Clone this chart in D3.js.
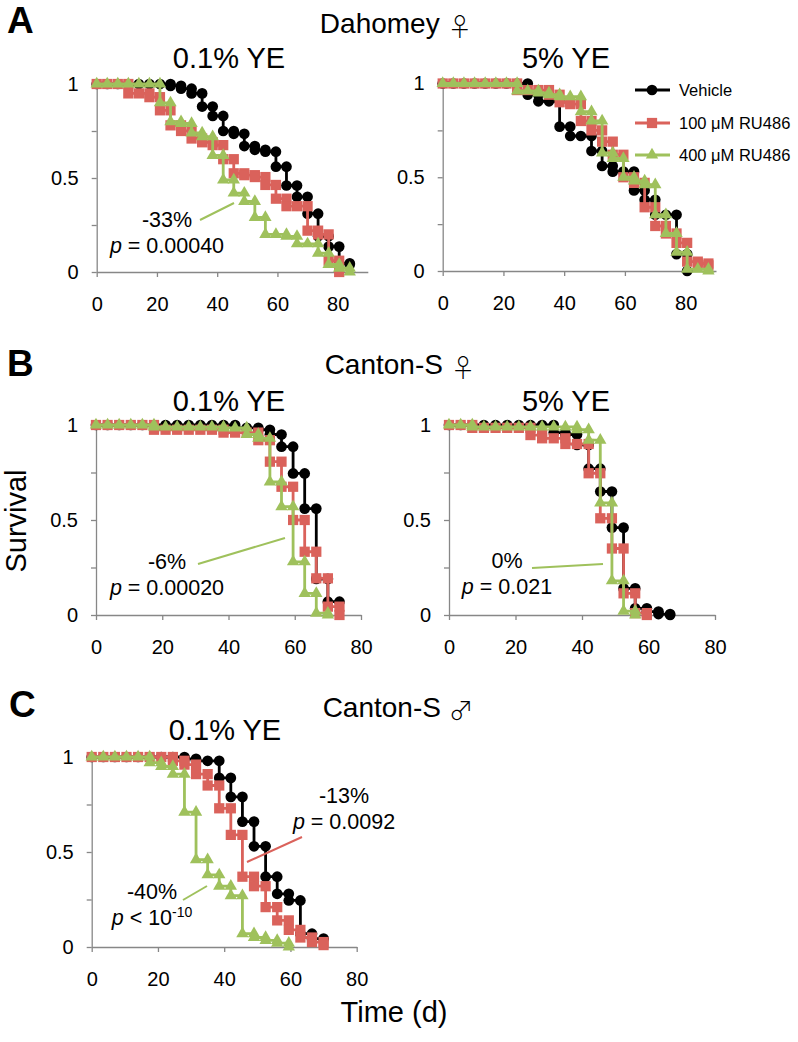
<!DOCTYPE html>
<html><head><meta charset="utf-8">
<script src="https://cdn.jsdelivr.net/npm/d3@7"></script>
<style>
body{margin:0;background:#fff}
svg{display:block}
text{font-family:"Liberation Sans",Arial,sans-serif;fill:#000}
</style>
</head><body>
<svg id="chart" width="798" height="1042"></svg>
<script>
// ---------- data ----------
const xTicks = [0, 20, 40, 60, 80];
const yTicks = [0, 0.25, 0.5, 0.75, 1];
const yTickLabels = ["0", "", "0.5", "", "1"];
const seriesNames = ["Vehicle", "100 \u03bcM RU486", "400 \u03bcM RU486"];
const seriesColors = ["#000000", "#da625b", "#9fc15c"];
const seriesShapes = ["circle", "square", "triangle"];

// Dahomey female, 0.1% YE  [day, survival]
const dahLow_vehicle = [[0,1],[3.5,1],[7,1],[10.5,1],[14,1],[17.5,1],[21,1],[24.5,0.99],[28,0.975],[31.5,0.95],[35,0.88],[38.5,0.83],[42,0.75],[45.5,0.735],[49,0.67],[52.5,0.65],[56,0.64],[59.5,0.56],[63,0.46],[66.5,0.40],[70,0.31],[73.5,0.19],[77,0.135],[80.5,0.046],[84,0.04]];
const dahLow_ru100 = [[0,1],[3.5,1],[7,1],[10.5,0.95],[14,0.95],[17.5,0.93],[21,0.86],[24.5,0.78],[28,0.75],[31.5,0.71],[35,0.69],[38.5,0.675],[42,0.6],[45.5,0.525],[49,0.515],[52.5,0.505],[56,0.463],[59.5,0.39],[63,0.35],[66.5,0.35],[70,0.22],[73.5,0.2],[77,0.06],[80.5,0]];
const dahLow_ru400 = [[0,1],[3.5,1],[7,1],[10.5,1],[14,1],[17.5,1],[21,0.9],[24.5,0.8],[28,0.79],[31.5,0.74],[35,0.72],[38.5,0.62],[42,0.49],[45.5,0.42],[49,0.375],[52.5,0.29],[56,0.2],[59.5,0.2],[63,0.19],[66.5,0.15],[70,0.15],[73.5,0.1],[77,0.04],[80.5,0.02],[84,0]];

// Dahomey female, 5% YE
const dahHigh_vehicle = [[0,1],[3.5,1],[7,1],[10.5,1],[14,1],[17.5,1],[21,1],[24.5,1],[28,0.94],[31.5,0.905],[35,0.905],[38.5,0.77],[42,0.72],[45.5,0.72],[49,0.64],[52.5,0.56],[56,0.53],[59.5,0.53],[63,0.43],[66.5,0.38],[70,0.3],[73.5,0.3],[77,0.09],[80.5,0]];
const dahHigh_ru100 = [[0,1],[3.5,1],[7,1],[10.5,1],[14,1],[17.5,1],[21,1],[24.5,0.965],[28,0.965],[31.5,0.965],[35,0.94],[38.5,0.9],[42,0.89],[45.5,0.8],[49,0.75],[52.5,0.69],[56,0.62],[59.5,0.5],[63,0.47],[66.5,0.34],[70,0.24],[73.5,0.2],[77,0.15],[80.5,0.05],[84,0.04],[87.5,0.03]];
const dahHigh_ru400 = [[0,1],[3.5,1],[7,1],[10.5,1],[14,1],[17.5,1],[21,1],[24.5,0.96],[28,0.96],[31.5,0.95],[35,0.94],[38.5,0.93],[42,0.93],[45.5,0.85],[49,0.8],[52.5,0.63],[56,0.6],[59.5,0.5],[63,0.48],[66.5,0.46],[70,0.3],[73.5,0.2],[77,0.1],[80.5,0.01],[84,0.01],[87.5,0]];

// Canton-S female, 0.1% YE
const cfLow_vehicle = [[0,1],[3.5,1],[7,1],[10.5,1],[14,1],[17.5,1],[21,1],[24.5,1],[28,1],[31.5,1],[35,1],[38.5,1],[42,0.985],[45.5,0.985],[49,0.975],[52.5,0.95],[56,0.886],[59.5,0.745],[63,0.56],[66.5,0.19],[70,0.07],[73.5,0.07]];
const cfLow_ru100 = [[0,1],[3.5,1],[7,1],[10.5,1],[14,1],[17.5,0.975],[21,0.975],[24.5,0.975],[28,0.975],[31.5,0.975],[35,0.975],[38.5,0.96],[42,0.96],[45.5,0.96],[49,0.92],[52.5,0.807],[56,0.675],[59.5,0.5],[63,0.333],[66.5,0.193],[70,0.044],[73.5,0]];
const cfLow_ru400 = [[0,1],[3.5,1],[7,1],[10.5,1],[14,1],[17.5,0.99],[21,0.99],[24.5,0.99],[28,0.99],[31.5,0.99],[35,0.99],[38.5,0.985],[42,0.985],[45.5,0.95],[49,0.93],[52.5,0.7],[56,0.57],[59.5,0.28],[63,0.114],[66.5,0.01],[70,0]];

// Canton-S female, 5% YE
const cfHigh_vehicle = [[0,1],[3.5,1],[7,1],[10.5,1],[14,1],[17.5,1],[21,1],[24.5,1],[28,1],[31.5,0.96],[35,0.95],[38.5,0.895],[42,0.77],[45.5,0.65],[49,0.46],[52.5,0.14],[56,0.035],[59.5,0.018],[63,0.005],[66.5,0]];
const cfHigh_ru100 = [[0,1],[3.5,1],[7,0.985],[10.5,0.985],[14,0.985],[17.5,0.985],[21,0.985],[24.5,0.947],[28,0.93],[31.5,0.93],[35,0.9],[38.5,0.9],[42,0.746],[45.5,0.509],[49,0.35],[52.5,0.114],[56,0.01],[59.5,0]];
const cfHigh_ru400 = [[0,1],[3.5,1],[7,0.99],[10.5,0.99],[14,0.99],[17.5,0.99],[21,0.99],[24.5,0.99],[28,0.99],[31.5,0.99],[35,0.99],[38.5,0.975],[42,0.92],[45.5,0.59],[49,0.18],[52.5,0.02],[56,0]];

// Canton-S male, 0.1% YE
const cmLow_vehicle = [[0,1],[3.5,1],[7,1],[10.5,1],[14,1],[17.5,1],[21,1],[24.5,1],[28,0.99],[31.5,0.98],[35,0.98],[38.5,0.89],[42,0.79],[45.5,0.66],[49,0.53],[52.5,0.37],[56,0.28],[59.5,0.245],[63,0.07],[66.5,0.044],[70,0.044]];
const cmLow_ru100 = [[0,1],[3.5,1],[7,1],[10.5,1],[14,1],[17.5,1],[21,1],[24.5,0.98],[28,0.96],[31.5,0.91],[35,0.85],[38.5,0.73],[42,0.59],[45.5,0.37],[49,0.32],[52.5,0.21],[56,0.14],[59.5,0.09],[63,0.05],[66.5,0.026],[70,0.01]];
const cmLow_ru400 = [[0,1],[3.5,1],[7,1],[10.5,1],[14,1],[17.5,0.97],[21,0.95],[24.5,0.91],[28,0.71],[31.5,0.46],[35,0.38],[38.5,0.32],[42,0.27],[45.5,0.07],[49,0.05],[52.5,0.035],[56,0.02],[59.5,0]];

// ---------- layout ----------
const svg = d3.select("#chart");
const FONT = '"Liberation Sans",Arial,sans-serif';

const panels = [
  {series:[dahLow_vehicle, dahLow_ru100, dahLow_ru400], xmax:90, x0:96.7, x1:367.8, yTop:84, yBot:272},
  {series:[dahHigh_vehicle, dahHigh_ru100, dahHigh_ru400], xmax:90, x0:442.7, x1:716, yTop:83.5, yBot:271},
  {series:[cfLow_vehicle, cfLow_ru100, cfLow_ru400], xmax:80, x0:96, x1:361, yTop:425, yBot:615},
  {series:[cfHigh_vehicle, cfHigh_ru100, cfHigh_ru400], xmax:80, x0:449, x1:715, yTop:425, yBot:615},
  {series:[cmLow_vehicle, cmLow_ru100, cmLow_ru400], xmax:80, x0:91.7, x1:356.7, yTop:757, yBot:947}
];

const symbolFor = {
  circle: d3.symbol(d3.symbolCircle, 90),
  square: d3.symbol(d3.symbolSquare, 105),
  triangle: d3.symbol(d3.symbolTriangle, 66)
};

function stepVertices(pts){
  const v = [pts[0]];
  for (let i = 1; i < pts.length; i++){
    if (pts[i][1] !== pts[i-1][1]) v.push([pts[i][0], pts[i-1][1]]);
    v.push(pts[i]);
  }
  return v;
}

panels.forEach(p => {
  const x = d3.scaleLinear().domain([0, p.xmax]).range([p.x0, p.x1]);
  const y = d3.scaleLinear().domain([0, 1]).range([p.yBot, p.yTop]);
  const g = svg.append("g");

  const xa = g.append("g").attr("transform", `translate(0,${p.yBot})`)
    .call(d3.axisBottom(x).tickValues(xTicks).tickSize(5).tickSizeOuter(0).tickPadding(20));
  const ya = g.append("g").attr("transform", `translate(${p.x0},0)`)
    .call(d3.axisLeft(y).tickValues(yTicks).tickFormat((d,i) => yTickLabels[i]).tickSize(5).tickSizeOuter(0).tickPadding(13));
  [xa, ya].forEach(a => {
    a.attr("font-family", FONT).attr("font-size", 20);
    a.selectAll("path,line").attr("stroke", "#878787").attr("stroke-width", 1.3);
    a.selectAll("text").attr("fill", "#000");
  });

  const line = d3.line().x(d => x(d[0])).y(d => y(d[1])).curve(d3.curveStepAfter);
  p.series.forEach((s, k) => {
    g.append("path").datum(s).attr("d", line)
      .attr("fill", "none").attr("stroke", seriesColors[k]).attr("stroke-width", 2.8);
    g.selectAll(null).data(stepVertices(s)).enter().append("path")
      .attr("d", symbolFor[seriesShapes[k]])
      .attr("transform", d => `translate(${x(d[0])},${y(d[1])})`)
      .attr("fill", seriesColors[k]);
  });
});

// ---------- titles ----------
function txt(x, y, s, size, opts = {}){
  const t = svg.append("text").attr("x", x).attr("y", y).attr("font-size", size)
    .attr("text-anchor", opts.anchor || "middle");
  if (opts.bold) t.attr("font-weight", "bold");
  t.append("tspan").text(s);
  if (opts.sym) t.append("tspan").attr("font-family", '"Noto Sans CJK JP","DejaVu Sans",sans-serif')
    .attr("font-size", size * 0.88).attr("font-weight", 300).attr("dy", 3).text(opts.sym);
  return t;
}
txt(7, 33, "A", 37, {anchor:"start", bold:true});
txt(7, 376, "B", 37, {anchor:"start", bold:true});
txt(9, 717, "C", 37, {anchor:"start", bold:true});
txt(396, 33, "Dahomey ", 28, {sym:"\u2640"});
txt(400, 374, "Canton-S ", 28, {sym:"\u2640"});
txt(398, 717, "Canton-S ", 28, {sym:"\u2642"});
txt(229, 68, "0.1% YE", 29);
txt(566, 68, "5% YE", 29);
txt(229, 411, "0.1% YE", 29);
txt(566, 411, "5% YE", 29);
txt(225, 740, "0.1% YE", 29);

svg.append("text").attr("transform", "translate(26,521) rotate(-90)")
  .attr("text-anchor", "middle").attr("font-size", 29).text("Survival");
txt(394, 1022, "Time (d)", 29);

// ---------- legend ----------
const legY = [90, 123, 155];
seriesNames.forEach((name, k) => {
  svg.append("line").attr("x1", 635).attr("x2", 670).attr("y1", legY[k]).attr("y2", legY[k])
    .attr("stroke", seriesColors[k]).attr("stroke-width", 2.8);
  svg.append("path").attr("d", symbolFor[seriesShapes[k]])
    .attr("transform", `translate(652,${legY[k]})`).attr("fill", seriesColors[k]);
  svg.append("text").attr("x", 679).attr("y", legY[k] + 6).attr("font-size", 16.5).text(name);
});

// ---------- annotations ----------
function annot(cx, y1, top, pRest, sup){
  svg.append("text").attr("x", cx).attr("y", y1).attr("text-anchor", "middle").attr("font-size", 21.5).text(top);
  const t = svg.append("text").attr("x", cx).attr("y", y1 + 26).attr("text-anchor", "middle").attr("font-size", 21.5);
  t.append("tspan").attr("font-style", "italic").text("p");
  t.append("tspan").text(pRest);
  if (sup) t.append("tspan").attr("font-size", 14).attr("baseline-shift", "super").text(sup);
}
function leader(x1, y1, x2, y2, c){
  svg.append("line").attr("x1", x1).attr("y1", y1).attr("x2", x2).attr("y2", y2)
    .attr("stroke", c).attr("stroke-width", 2);
}
annot(167, 227, "-33%", " = 0.00040");
leader(200, 220, 234, 203, seriesColors[2]);
annot(167, 569, "-6%", " = 0.00020");
leader(198, 564, 285, 538, seriesColors[2]);
annot(507, 568, "0%", " = 0.021");
leader(532, 568, 603, 564, seriesColors[2]);
annot(344, 803, "-13%", " = 0.0092");
leader(247, 862, 302, 837, seriesColors[1]);
annot(152, 899, "-40%", " < 10", "-10");
leader(183, 900, 207, 886, seriesColors[2]);
</script>
</body></html>
